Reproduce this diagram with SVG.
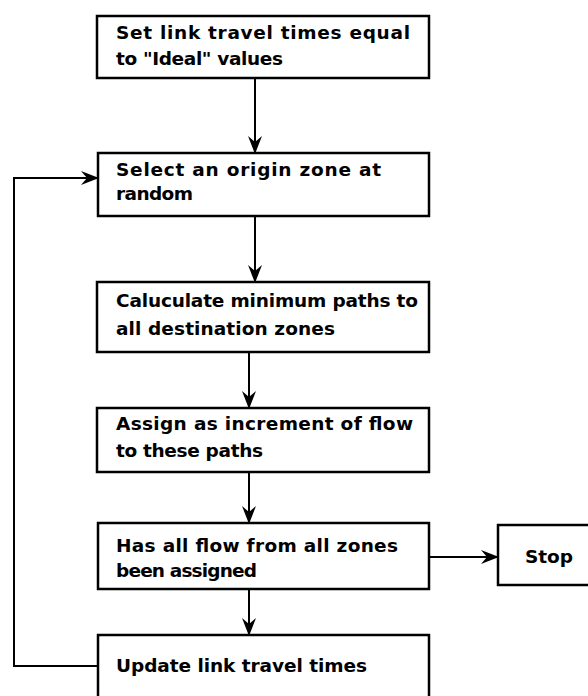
<svg xmlns="http://www.w3.org/2000/svg" width="588" height="696" viewBox="0 0 588 696">
<style>
.box{fill:#fff;stroke:#000;stroke-width:2.5}
.t{font-family:"DejaVu Sans","Liberation Sans",sans-serif;font-weight:bold;font-size:18.5px;fill:#000}
.c{fill:none;stroke:#000;stroke-width:2}
</style>
<defs>
<marker id="ah" viewBox="0 0 18 14" refX="17" refY="7" markerWidth="18" markerHeight="14" markerUnits="userSpaceOnUse" orient="auto">
<path d="M0,0 L18,7 L0,14 L6,7 z" fill="#000"/>
</marker>
</defs>
<rect width="588" height="696" fill="#fff"/>
<g id="connectors">
<line class="c" x1="255" y1="78" x2="255" y2="153" marker-end="url(#ah)"/>
<line class="c" x1="255" y1="216" x2="255" y2="282" marker-end="url(#ah)"/>
<line class="c" x1="249" y1="352" x2="249" y2="408" marker-end="url(#ah)"/>
<line class="c" x1="249" y1="472" x2="249" y2="523" marker-end="url(#ah)"/>
<line class="c" x1="249" y1="589" x2="249" y2="635" marker-end="url(#ah)"/>
<line class="c" x1="429" y1="557" x2="498" y2="557" marker-end="url(#ah)"/>
<polyline class="c" points="98,666 14,666 14,178 98,178" marker-end="url(#ah)"/>
</g>
<g id="n1">
<rect class="box" x="97" y="16" width="332" height="62"/>
<text class="t" x="116" y="39" textLength="294" lengthAdjust="spacing">Set link travel times equal</text>
<text class="t" x="116" y="65" textLength="167" lengthAdjust="spacing">to "Ideal" values</text>
</g>
<g id="n2">
<rect class="box" x="98" y="153" width="331" height="63"/>
<text class="t" x="116" y="176" textLength="265" lengthAdjust="spacing">Select an origin zone at</text>
<text class="t" x="116" y="200" textLength="77" lengthAdjust="spacing">random</text>
</g>
<g id="n3">
<rect class="box" x="97" y="282" width="332" height="70"/>
<text class="t" x="116" y="307" textLength="302" lengthAdjust="spacing">Caluculate minimum paths to</text>
<text class="t" x="116" y="335" textLength="219" lengthAdjust="spacing">all destination zones</text>
</g>
<g id="n4">
<rect class="box" x="97" y="408" width="332" height="64"/>
<text class="t" x="116" y="430" textLength="297" lengthAdjust="spacing">Assign as increment of flow</text>
<text class="t" x="116" y="457" textLength="147" lengthAdjust="spacing">to these paths</text>
</g>
<g id="n5">
<rect class="box" x="98" y="523" width="331" height="66"/>
<text class="t" x="116" y="552" textLength="282" lengthAdjust="spacing">Has all flow from all zones</text>
<text class="t" x="116" y="577" textLength="141" lengthAdjust="spacing">been assigned</text>
</g>
<g id="n6">
<rect class="box" x="98" y="635" width="331" height="70"/>
<text class="t" x="116" y="672" textLength="251" lengthAdjust="spacing">Update link travel times</text>
</g>
<g id="stop">
<rect class="box" x="498" y="525" width="100" height="60"/>
<text class="t" x="525" y="563" textLength="48" lengthAdjust="spacing">Stop</text>
</g>
</svg>
